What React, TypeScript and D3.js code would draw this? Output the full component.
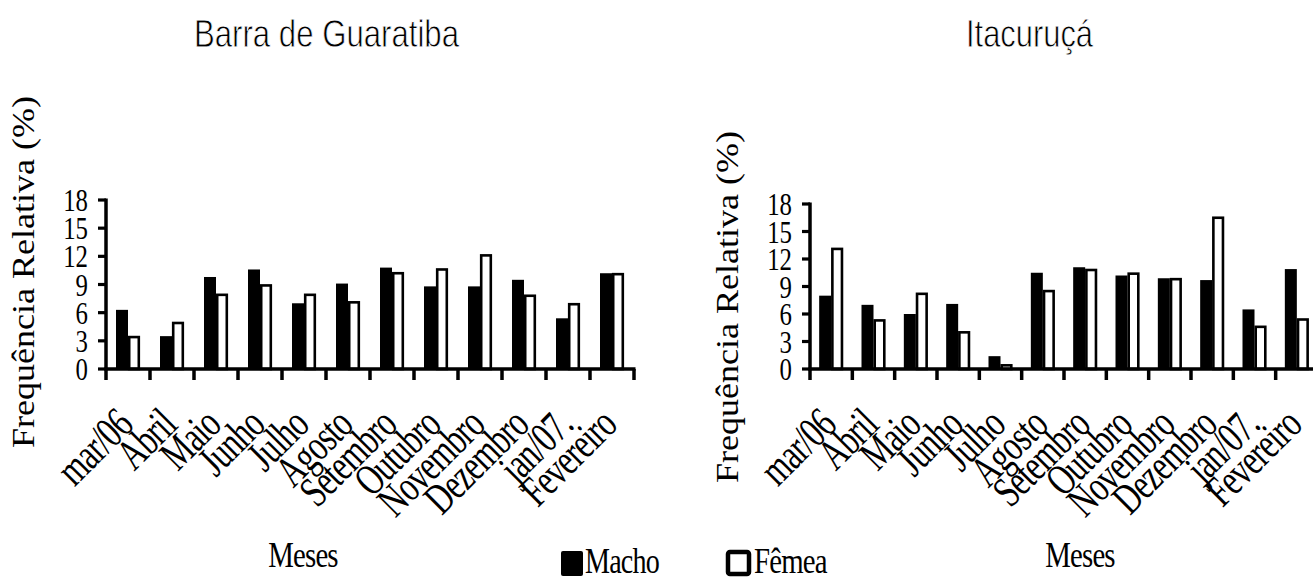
import React from "react";
import * as d3 from "d3";

// Months sampled (mar/2006 – fev/2007)
const months = [
  "mar/06", "Abril", "Maio", "Junho", "Julho", "Agosto",
  "Setembro", "Outubro", "Novembro", "Dezembro", "jan/07.", "Fevereiro",
];
const sexes = ["Macho", "Fêmea"];
const yTicks = [0, 3, 6, 9, 12, 15, 18];

// Relative frequency (%) per month – Barra de Guaratiba
const barraMacho = [6.3, 3.5, 9.8, 10.6, 7.0, 9.1, 10.8, 8.8, 8.8, 9.5, 5.4, 10.2];
const barraFemea = [3.4, 4.9, 7.9, 8.9, 7.9, 7.1, 10.2, 10.6, 12.1, 7.8, 6.9, 10.1];

// Relative frequency (%) per month – Itacuruçá
const itaMacho = [8.0, 7.0, 6.0, 7.1, 1.4, 10.5, 11.1, 10.2, 9.9, 9.7, 6.5, 10.9];
const itaFemea = [13.1, 5.3, 8.2, 4.0, 0.4, 8.5, 10.8, 10.4, 9.8, 16.5, 4.6, 5.4];

const SERIF = "'Liberation Serif', 'Times New Roman', serif";
const NARROW = "'Liberation Sans Narrow', 'Liberation Sans', Arial, sans-serif";

type PanelProps = {
  title: string;
  titleX: [number, number];
  macho: number[];
  femea: number[];
  x0: number;
  x1: number;
  yTop: number;
  yBottom: number;
  yLabelX: number;
  yLabelY: number;
  mesesX: number;
};

function Panel(p: PanelProps) {
  const x = d3.scaleBand<string>().domain(months).range([p.x0, p.x1]);
  const y = d3.scaleLinear().domain([0, 18]).range([p.yBottom, p.yTop]);
  const inner = d3.scaleBand<string>().domain(sexes).range([0, 24]).padding(0);
  const groupOff = (x.bandwidth() - 24) / 2;
  const edges = d3.range(months.length + 1).map((i) => p.x0 + i * x.step());

  return (
    <g>
      <text
        x={p.titleX[0]}
        y={47}
        fontFamily={NARROW}
        fontSize={39}
        textLength={p.titleX[1] - p.titleX[0]}
        lengthAdjust="spacingAndGlyphs"
        fill="#000"
        stroke="#fff"
        strokeWidth={0.8}
      >
        {p.title}
      </text>

      {/* y label */}
      <text
        transform={`translate(${p.yLabelX},${p.yLabelY}) rotate(-90)`}
        textAnchor="middle"
        fontFamily={SERIF}
        fontSize={32}
        textLength={352}
        lengthAdjust="spacingAndGlyphs"
      >
        Frequência Relativa (%)
      </text>

      {/* bars */}
      {months.map((m, i) => {
        const bx = (x(m) as number) + groupOff;
        return (
          <g key={m}>
            <rect
              x={bx + (inner("Macho") as number)}
              y={y(p.macho[i])}
              width={inner.bandwidth()}
              height={y(0) - y(p.macho[i])}
              fill="#000"
            />
            <rect
              x={bx + (inner("Fêmea") as number) + 1.2}
              y={y(p.femea[i])}
              width={inner.bandwidth() - 2.4}
              height={y(0) - y(p.femea[i])}
              fill="#fff"
              stroke="#000"
              strokeWidth={2.6}
            />
          </g>
        );
      })}

      {/* y axis */}
      <line x1={p.x0} x2={p.x0} y1={y(18) - 1.5} y2={y(0) + 1.5} stroke="#000" strokeWidth={3.5} />
      {yTicks.map((t) => (
        <g key={t}>
          <line x1={p.x0 - 8} x2={p.x0} y1={y(t)} y2={y(t)} stroke="#000" strokeWidth={3.2} />
          <text
            transform={`translate(${p.x0 - 18},${y(t) + 11}) scale(0.8,1)`}
            textAnchor="end"
            fontFamily={SERIF}
            fontSize={31}
          >
            {t}
          </text>
        </g>
      ))}

      {/* x axis */}
      <line x1={p.x0 - 1.5} x2={p.x1 + 1.5} y1={y(0)} y2={y(0)} stroke="#000" strokeWidth={3.5} />
      {edges.map((e, i) => (
        <line key={i} x1={e} x2={e} y1={y(0)} y2={y(0) + 11} stroke="#000" strokeWidth={3.5} />
      ))}
      {months.map((m) => {
        const cx = (x(m) as number) + x.bandwidth() / 2;
        return (
          <text
            key={m}
            transform={`translate(${cx + 7},${y(0) + 58}) rotate(-45) scale(0.72,1)`}
            textAnchor="end"
            fontFamily={SERIF}
            fontSize={44}
            letterSpacing={-1}
          >
            {m}
          </text>
        );
      })}

      <text
        transform={`translate(${p.mesesX},567) scale(0.8,1)`}
        textAnchor="middle"
        fontFamily={SERIF}
        fontSize={36}
        letterSpacing={-1}
      >
        Meses
      </text>
    </g>
  );
}

export default function App() {
  return (
    <svg
      width={1313}
      height={578}
      style={{ position: "absolute", left: 0, top: 0, display: "block", background: "#fff" }}
    >
      <Panel
        title="Barra de Guaratiba"
        titleX={[194, 459]}
        macho={barraMacho}
        femea={barraFemea}
        x0={106}
        x1={634}
        yTop={200}
        yBottom={369}
        yLabelX={34}
        yLabelY={272}
        mesesX={303}
      />
      <Panel
        title="Itacuruçá"
        titleX={[966, 1093]}
        macho={itaMacho}
        femea={itaFemea}
        x0={810}
        x1={1318}
        yTop={204}
        yBottom={369}
        yLabelX={738}
        yLabelY={307}
        mesesX={1080}
      />

      {/* legend */}
      <rect x={561} y={551} width={22} height={25} rx={2} fill="#000" />
      <text transform="translate(585,573) scale(0.78,1)" fontFamily={SERIF} fontSize={36} letterSpacing={-1}>
        Macho
      </text>
      <rect x={728} y={552} width={21} height={22} rx={2} fill="#fff" stroke="#000" strokeWidth={4.5} />
      <text transform="translate(754,573) scale(0.8,1)" fontFamily={SERIF} fontSize={36} letterSpacing={-1}>
        Fêmea
      </text>
    </svg>
  );
}
